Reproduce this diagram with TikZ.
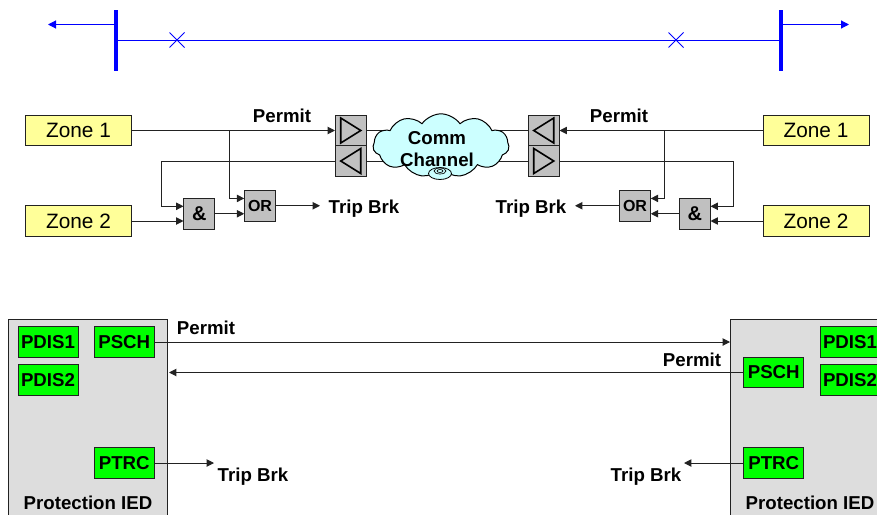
\documentclass[tikz,border=0pt]{standalone}
\usepackage{fontspec}
\setmainfont{Liberation Sans}
\usepackage{xcolor}
\usepackage{tikz}
\usetikzlibrary{arrows.meta,calc,shapes.geometric,shapes.symbols}
\definecolor{linebus}{HTML}{0000FF}
\definecolor{zonefill}{HTML}{FFFF99}
\definecolor{gatefill}{HTML}{C0C0C0}
\definecolor{iedfill}{HTML}{DDDDDD}
\definecolor{lnfill}{HTML}{00FF00}
\definecolor{cloudfill}{HTML}{CCFFFF}
\definecolor{edge}{HTML}{222222}
\newcommand{\relaytri}[2]{\draw[tri] ([shift={(#2*-10,-12.5)}]#1.center) -- ([shift={(#2*10,0)}]#1.center) -- ([shift={(#2*-10,12.5)}]#1.center) -- cycle;}
\tikzset{
  sig/.style={edge,line width=0.75pt},
  arr/.style={sig,-{Triangle[length=5.5pt,width=5.5pt]}},
  busbar/.style={draw=none,fill=linebus,minimum width=2.8pt,minimum height=45.5pt,inner sep=0pt},
  busline/.style={draw=linebus,line width=0.8pt},
  zonebox/.style={draw=edge,fill=zonefill,line width=0.75pt,minimum width=79.5pt,minimum height=22.9pt,inner sep=0pt,font=\fontsize{15.6}{18}\selectfont},
  gatebox/.style={draw=edge,fill=gatefill,line width=0.75pt,minimum width=22.9pt,minimum height=22.9pt,inner sep=0pt,font=\fontsize{15}{18}\selectfont\bfseries},
  orbox/.style={gatebox,font=\fontsize{12}{14}\selectfont\bfseries},
  tri/.style={line width=1.2pt,black},
  lbl/.style={font=\fontsize{14}{16.5}\selectfont\bfseries,inner sep=0pt},
  iedbox/.style={draw=edge,fill=iedfill,line width=0.75pt,inner sep=0pt,minimum height=165pt},
  lnbox/.style={draw=edge,fill=lnfill,line width=0.75pt,minimum width=45pt,minimum height=22.9pt,inner sep=0pt,font=\fontsize{14}{16}\selectfont\bfseries},
}
\begin{document}
\begin{tikzpicture}[x=0.75pt,y=-0.75pt]
  \useasboundingbox (0,0) rectangle (877,514);
  \clip (0,0) rectangle (877,514);
  % line with the two bus bars
  \node[busbar] (busA) at (116,40.4) {};
  \node[busbar] (busB) at (781,40.4) {};
  \coordinate (outA) at (48,24.5);
  \coordinate (outB) at (849,24.5);
  \draw[busline] (busA.east) -- (busB.west);
  \draw[busline,-{Triangle[length=6pt,width=6pt]}] (busA |- outA) -- (outA);
  \draw[busline,-{Triangle[length=6pt,width=6pt]}] (busB |- outB) -- (outB);
  \foreach \x in {177,676} {
    \draw[linebus,line width=0.75pt] (\x-7.5,32.5) -- (\x+7.5,47.5) (\x-7.5,47.5) -- (\x+7.5,32.5);
  }
  % upper scheme
  \node[zonebox] (zoneA) at (78.5,130.5) {Zone 1};
  \node[zonebox] (zoneB) at (78.5,221) {Zone 2};
  \node[zonebox] (zoneC) at (816,130.5) {Zone 1};
  \node[zonebox] (zoneD) at (816,221) {Zone 2};
  \node[gatebox] (txA) at (350.75,130.5) {};
  \node[gatebox] (rxA) at (350.75,161) {};
  \node[gatebox] (rxB) at (543.75,130.5) {};
  \node[gatebox] (txB) at (543.75,161) {};
  \node[gatebox] (andA) at (199.25,213.75) {\&};
  \node[orbox] (orA) at (260,205.75) {OR};
  \node[gatebox] (andB) at (694.75,213.75) {\&};
  \node[orbox] (orB) at (635,205.75) {OR};
  \draw[sig] (txA) -- (rxB);
  \draw[sig] (rxA) -- (txB);
  \node[cloud,draw=black,fill=cloudfill,line width=0.75pt,cloud puffs=11,cloud puff arc=110,aspect=2.1,minimum width=102pt,minimum height=47.5pt,inner sep=0pt] (chan) at (441,145.5) {};
  \node[lbl,align=center] (chanlbl) at (437,149) {Comm\\Channel};
  \draw[black,fill=cloudfill,line width=0.6pt] (440,173.5) ellipse (11.5 and 6);
  \draw[black,line width=0.5pt] (440,171) ellipse (6 and 3) (440,171) ellipse (3 and 1.5);
  \relaytri{txA}{1}
  \relaytri{rxA}{-1}
  \relaytri{rxB}{-1}
  \relaytri{txB}{1}
  \coordinate (tapA) at (229.5,130.5);
  \coordinate (tapB) at (664.5,130.5);
  \coordinate (turnA) at (161.5,161);
  \coordinate (turnB) at (733,161);
  \coordinate (tripA) at (320,205.75);
  \coordinate (tripB) at (575,205.75);
  \draw[arr] (zoneA) -- (txA);
  \draw[arr] (zoneC) -- (rxB);
  \draw[arr] (tapA) |- ([yshift=5.5pt]orA.west);
  \draw[arr] (tapB) |- ([yshift=5.5pt]orB.east);
  \draw[arr] (rxA) -- (turnA) |- ([yshift=5.6pt]andA.west);
  \draw[arr] (txB) -- (turnB) |- ([yshift=5.6pt]andB.east);
  \draw[arr] (zoneB) -- (zoneB -| andA.west);
  \draw[arr] (zoneD) -- (zoneD -| andB.east);
  \draw[arr] (andA) -- (andA -| orA.west);
  \draw[arr] (andB) -- (andB -| orB.east);
  \draw[arr] (orA) -- (tripA);
  \draw[arr] (orB) -- (tripB);
  \node[lbl] (permitA) at (282,116) {Permit};
  \node[lbl] (permitB) at (619,116) {Permit};
  \node[lbl] (brkA) at (364,208.5) {Trip Brk};
  \node[lbl] (brkB) at (531,208.5) {Trip Brk};
  % lower scheme
  \node[iedbox,minimum width=118.9pt] (iedA) at (87.75,429.5) {};
  \node[iedbox,minimum width=120pt] (iedB) at (810.5,429.5) {};
  \node[lnbox] (disA) at (48,342) {PDIS1};
  \node[lnbox] (disB) at (48,379.75) {PDIS2};
  \node[lnbox] (schA) at (124.25,342) {PSCH};
  \node[lnbox] (trcA) at (124.25,463) {PTRC};
  \node[lnbox] (disC) at (850,342) {PDIS1};
  \node[lnbox] (disD) at (850,379.75) {PDIS2};
  \node[lnbox] (schB) at (773.75,372.5) {PSCH};
  \node[lnbox] (trcB) at (773.75,463) {PTRC};
  \coordinate (endA) at (169,372.5);
  \coordinate (endB) at (214,463);
  \coordinate (endC) at (684,463);
  \draw[arr] (schA) -- (schA -| iedB.west);
  \draw[arr] (schB) -- (endA);
  \draw[arr] (trcA) -- (endB);
  \draw[arr] (trcB) -- (endC);
  \node[lbl] (permitC) at (206,327.5) {Permit};
  \node[lbl] (permitD) at (692,359.5) {Permit};
  \node[lbl] (brkC) at (253,477) {Trip Brk};
  \node[lbl] (brkD) at (646,477) {Trip Brk};
  \node[lbl] (iedlblA) at (88,503) {Protection IED};
  \node[lbl] (iedlblB) at (810,503) {Protection IED};
\end{tikzpicture}
\end{document}
